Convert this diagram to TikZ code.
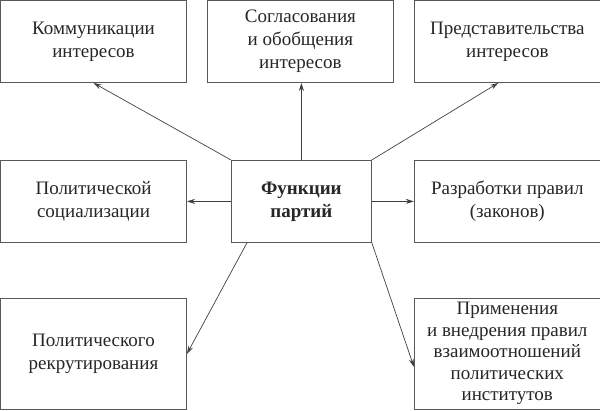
\documentclass[tikz,border=0pt]{standalone}
\usepackage{fontspec}
\setmainfont{Liberation Serif}
\usetikzlibrary{positioning,arrows.meta}

\tikzset{
  func/.style={draw=black!65, line width=0.9pt, align=center, inner sep=1pt,
    minimum width=186pt, minimum height=82pt,
    font=\rmfamily\fontsize{19}{23}\selectfont, text=black!85},
  link/.style={draw=black!75, line width=0.7pt, -{Stealth[length=8pt,width=5pt]}}
}

\begin{document}
\begin{tikzpicture}[x=1pt,y=1pt]
  \useasboundingbox (0,0) rectangle (600,410);

  \node (kom) [func] at (93.5,368.5) {Коммуникации\\интересов};
  \node (sogl) [func, right=20pt of kom] {Согласования\\и обобщения\\интересов};
  \node (pred) [func, right=20pt of sogl] {Представительства\\интересов};
  \node (soc) [func, below=77pt of kom] {Политической\\социализации};
  \node (fun) [func, right=44pt of soc, minimum width=140pt] {\bfseries Функции\\\bfseries партий};
  \node (razr) [func, below=77pt of pred] {Разработки правил\\(законов)};
  \node (rekr) [func, below=55pt of soc, minimum height=111pt] {Политического\\рекрутирования};
  \node (prim) [func, below=55pt of razr, minimum height=111pt,
    font=\rmfamily\fontsize{19}{21.5}\selectfont] {Применения\\и внедрения правил\\взаимоотношений\\политических\\институтов};

  \draw [link] (fun.north west) -- (kom.south);
  \draw [link] (fun.north) -- (fun.north |- sogl.south);
  \draw [link] (fun.north east) -- ([xshift=-9pt]pred.south);
  \draw [link] (fun.west) -- (soc.east);
  \draw [link] (fun.east) -- (razr.west);
  \draw [link] ([xshift=16pt]fun.south west) -- (rekr.east);
  \draw [link] (fun.south east) -- ([yshift=-13pt]prim.west);

\end{tikzpicture}
\end{document}
